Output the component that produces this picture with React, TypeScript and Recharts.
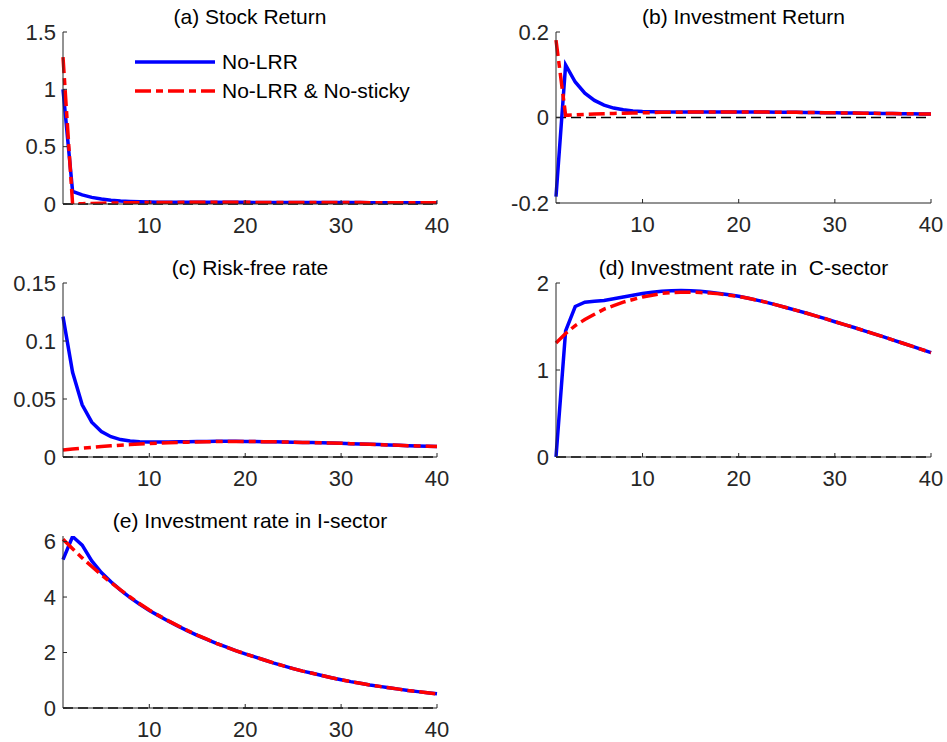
import { LineChart, Line, XAxis, YAxis, ReferenceLine, Legend } from "recharts";

const FONT = "'Liberation Sans', Arial, sans-serif";
const AXIS = "#262626";
const BLUE = "#0000ff";
const RED = "#ff0000";
const X_GAP = 13;
const Y_GAP = 7;
const TICK_LEN = 4;

// horizon (quarters)
const periods = [
  1, 2, 3, 4, 5, 6, 7, 8, 9, 10, 11, 12, 13, 14, 15, 16, 17, 18, 19, 20,
  21, 22, 23, 24, 25, 26, 27, 28, 29, 30, 31, 32, 33, 34, 35, 36, 37, 38, 39, 40,
];
const xTicks = [10, 20, 30, 40];

// (a) Stock Return
const stockNoLRR = [
  1.0, 0.11, 0.08, 0.058, 0.043, 0.033, 0.026, 0.022, 0.019, 0.017, 0.016, 0.015, 0.015, 0.015, 0.015, 0.015, 0.015, 0.015, 0.015, 0.015,
  0.014, 0.014, 0.014, 0.014, 0.013, 0.013, 0.013, 0.013, 0.012, 0.012, 0.012, 0.012, 0.011, 0.011, 0.011, 0.011, 0.01, 0.01, 0.01, 0.01,
];
const stockNoSticky = [
  1.28, 0.0, 0.003, 0.005, 0.007, 0.009, 0.01, 0.011, 0.012, 0.013, 0.014, 0.014, 0.014, 0.015, 0.015, 0.015, 0.015, 0.015, 0.015, 0.015,
  0.014, 0.014, 0.014, 0.014, 0.013, 0.013, 0.013, 0.013, 0.012, 0.012, 0.012, 0.012, 0.011, 0.011, 0.011, 0.011, 0.01, 0.01, 0.01, 0.01,
];

// (b) Investment Return
const invRetNoLRR = [
  -0.185, 0.123, 0.083, 0.057, 0.04, 0.029, 0.022, 0.018, 0.015, 0.014, 0.0135, 0.013, 0.013, 0.013, 0.013, 0.013, 0.013, 0.013, 0.013, 0.013,
  0.013, 0.0128, 0.0126, 0.0124, 0.0122, 0.012, 0.0118, 0.0115, 0.0112, 0.011, 0.0107, 0.0104, 0.0101, 0.0098, 0.0095, 0.0092, 0.0089, 0.0086, 0.0083, 0.008,
];
const invRetNoSticky = [
  0.181, 0.005, 0.006, 0.007, 0.008, 0.009, 0.0095, 0.01, 0.0105, 0.011, 0.0115, 0.012, 0.0123, 0.0125, 0.0127, 0.0128, 0.0129, 0.013, 0.013, 0.013,
  0.013, 0.0128, 0.0126, 0.0124, 0.0122, 0.012, 0.0118, 0.0115, 0.0112, 0.011, 0.0107, 0.0104, 0.0101, 0.0098, 0.0095, 0.0092, 0.0089, 0.0086, 0.0083, 0.008,
];

// (c) Risk-free rate
const rfNoLRR = [
  0.121, 0.073, 0.045, 0.03, 0.022, 0.0175, 0.015, 0.0138, 0.0132, 0.013, 0.013, 0.013, 0.0131, 0.0132, 0.0133, 0.0134, 0.0135, 0.0135, 0.0135, 0.0134,
  0.0133, 0.0132, 0.0131, 0.013, 0.0128, 0.0126, 0.0124, 0.0122, 0.012, 0.0118, 0.0115, 0.0112, 0.011, 0.0107, 0.0104, 0.0101, 0.0098, 0.0095, 0.0092, 0.009,
];
const rfNoSticky = [
  0.006, 0.0068, 0.0076, 0.0083, 0.009, 0.0096, 0.0102, 0.0107, 0.0112, 0.0116, 0.012, 0.0123, 0.0126, 0.0128, 0.013, 0.0132, 0.0133, 0.0134, 0.0134, 0.0134,
  0.0133, 0.0132, 0.0131, 0.013, 0.0128, 0.0126, 0.0124, 0.0122, 0.012, 0.0118, 0.0115, 0.0112, 0.011, 0.0107, 0.0104, 0.0101, 0.0098, 0.0095, 0.0092, 0.009,
];

// (d) Investment rate in C-sector
const invCNoLRR = [
  0.0, 1.45, 1.73, 1.78, 1.79, 1.8, 1.82, 1.84, 1.86, 1.88, 1.895, 1.905, 1.912, 1.915, 1.912, 1.905, 1.895, 1.88, 1.865, 1.848,
  1.825, 1.8, 1.775, 1.745, 1.715, 1.685, 1.655, 1.622, 1.59, 1.555, 1.522, 1.488, 1.453, 1.418, 1.383, 1.347, 1.31, 1.274, 1.237, 1.2,
];
const invCNoSticky = [
  1.31, 1.42, 1.51, 1.58, 1.64, 1.7, 1.74, 1.78, 1.81, 1.84, 1.86, 1.88, 1.89, 1.895, 1.895, 1.89, 1.885, 1.875, 1.86, 1.845,
  1.825, 1.8, 1.775, 1.745, 1.715, 1.685, 1.655, 1.622, 1.59, 1.555, 1.522, 1.488, 1.453, 1.418, 1.383, 1.347, 1.31, 1.274, 1.237, 1.2,
];

// (e) Investment rate in I-sector
const invINoLRR = [
  5.35, 6.18, 5.87, 5.3, 4.88, 4.55, 4.25, 3.98, 3.74, 3.51, 3.32, 3.13, 2.95, 2.78, 2.62, 2.47, 2.33, 2.2, 2.07, 1.95,
  1.84, 1.73, 1.62, 1.52, 1.42, 1.33, 1.25, 1.17, 1.09, 1.02, 0.95, 0.89, 0.83, 0.78, 0.73, 0.68, 0.63, 0.59, 0.55, 0.51,
];
const invINoSticky = [
  6.08, 5.74, 5.41, 5.1, 4.8, 4.52, 4.26, 4.0, 3.76, 3.53, 3.33, 3.14, 2.96, 2.79, 2.63, 2.48, 2.33, 2.2, 2.07, 1.95,
  1.84, 1.73, 1.62, 1.52, 1.42, 1.33, 1.25, 1.17, 1.09, 1.02, 0.95, 0.89, 0.83, 0.78, 0.73, 0.68, 0.63, 0.59, 0.55, 0.51,
];

function XTick({ x, y, payload }: any) {
  const base = y - X_GAP;
  return (
    <g>
      <line x1={x} x2={x} y1={base} y2={base - TICK_LEN} stroke={AXIS} strokeWidth={1} />
      <text x={x} y={y} dy="0.71em" textAnchor="middle" fill={AXIS} fontSize={22} fontFamily={FONT}>
        {payload.value}
      </text>
    </g>
  );
}

function YTick({ x, y, payload }: any) {
  const base = x + Y_GAP;
  return (
    <g>
      <line x1={base} x2={base + TICK_LEN} y1={y} y2={y} stroke={AXIS} strokeWidth={1} />
      <text x={x} y={y} dy="0.355em" textAnchor="end" fill={AXIS} fontSize={22} fontFamily={FONT}>
        {String(payload.value)}
      </text>
    </g>
  );
}

function LegendBox() {
  const row = (color: string, dash: string | undefined, label: string) => (
    <div style={{ display: "flex", alignItems: "center", height: 29 }}>
      <svg width={80} height={8} style={{ display: "block" }}>
        <line x1={0} x2={80} y1={4} y2={4} stroke={color} strokeWidth={3.5} strokeDasharray={dash} />
      </svg>
      <span style={{ marginLeft: 7, fontSize: 21, fontFamily: FONT, color: "#000", whiteSpace: "nowrap" }}>{label}</span>
    </div>
  );
  return (
    <div>
      {row(BLUE, undefined, "No-LRR")}
      {row(RED, "16 5 7 5", "No-LRR & No-sticky")}
    </div>
  );
}

interface PanelProps {
  title: string;
  x0: number; x1: number; y0: number; y1: number;
  blue: number[]; red: number[];
  yDomain: [number, number];
  yTicks: number[];
  legend?: boolean;
}

function Panel({ title, x0, x1, y0, y1, blue, red, yDomain, yTicks, legend }: PanelProps) {
  const left = x0 - 60;
  const top = y0 - 30;
  const width = x1 - x0 + 90;
  const height = y1 - y0 + 75;
  const data = periods.map((t, i) => ({ t, blue: blue[i], red: red[i] }));
  return (
    <>
      <div
        style={{
          position: "absolute", left: x0, top: y0 - 26, width: x1 - x0, lineHeight: "22px",
          textAlign: "center", fontSize: 21, fontFamily: FONT, color: "#000", whiteSpace: "pre",
        }}
      >
        {title}
      </div>
      <div style={{ position: "absolute", left, top }}>
        <LineChart width={width} height={height} data={data} margin={{ top: 30, right: 30, bottom: 15, left: 0 }}>
          <XAxis
            dataKey="t" type="number" domain={[1, 40]} ticks={xTicks} height={30}
            axisLine={{ stroke: AXIS, strokeWidth: 1 }} tickLine={false} tickSize={0} tickMargin={X_GAP}
            tick={<XTick />} interval={0}
          />
          <YAxis
            type="number" domain={yDomain} ticks={yTicks} width={60} allowDataOverflow
            axisLine={{ stroke: AXIS, strokeWidth: 1 }} tickLine={false} tickSize={0} tickMargin={Y_GAP}
            tick={<YTick />} interval={0}
          />
          <ReferenceLine y={0} stroke="#000" strokeWidth={1.5} strokeDasharray="10 5" />
          <Line dataKey="blue" stroke={BLUE} strokeWidth={3.5} dot={false} isAnimationActive={false} />
          <Line dataKey="red" stroke={RED} strokeWidth={3.5} strokeDasharray="16 5 7 5" dot={false} isAnimationActive={false} />
          {legend && (
            <Legend
              layout="horizontal" verticalAlign="middle" align="center"
              content={() => <LegendBox />}
              wrapperStyle={{ left: 135 - left, top: 47.5 - top, width: 320, height: 58 }}
            />
          )}
        </LineChart>
      </div>
    </>
  );
}

export default function App() {
  return (
    <div style={{ position: "absolute", left: 0, top: 0, width: 947, height: 742, background: "#fff", overflow: "hidden" }}>
      <Panel title="(a) Stock Return" x0={63} x1={437} y0={32} y1={204}
        blue={stockNoLRR} red={stockNoSticky} yDomain={[0, 1.5]} yTicks={[0, 0.5, 1, 1.5]} legend />
      <Panel title="(b) Investment Return" x0={556} x1={931} y0={32} y1={203}
        blue={invRetNoLRR} red={invRetNoSticky} yDomain={[-0.2, 0.2]} yTicks={[-0.2, 0, 0.2]} />
      <Panel title="(c) Risk-free rate" x0={63} x1={437} y0={283} y1={457}
        blue={rfNoLRR} red={rfNoSticky} yDomain={[0, 0.15]} yTicks={[0, 0.05, 0.1, 0.15]} />
      <Panel title="(d) Investment rate in  C-sector" x0={556} x1={931} y0={283} y1={457}
        blue={invCNoLRR} red={invCNoSticky} yDomain={[0, 2]} yTicks={[0, 1, 2]} />
      <Panel title="(e) Investment rate in I-sector" x0={63} x1={437} y0={536} y1={708}
        blue={invINoLRR} red={invINoSticky} yDomain={[0, 6.2]} yTicks={[0, 2, 4, 6]} />
    </div>
  );
}
